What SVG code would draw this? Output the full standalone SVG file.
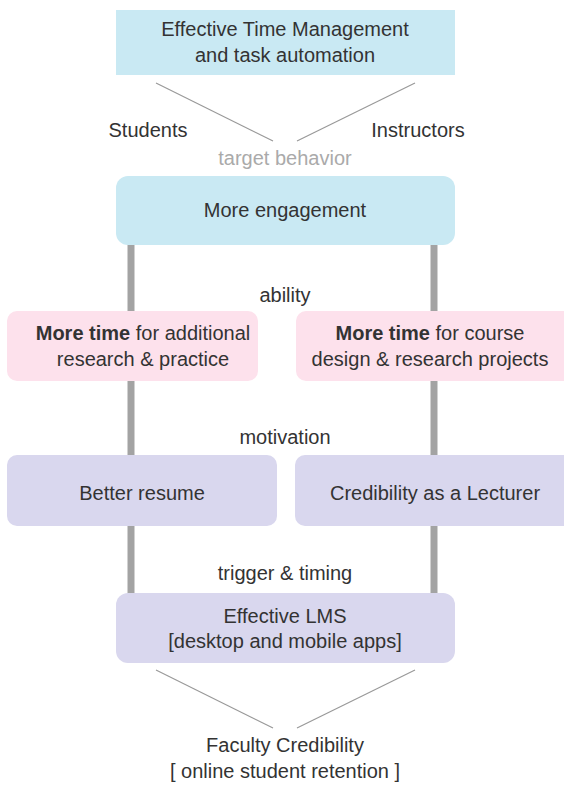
<svg xmlns="http://www.w3.org/2000/svg" width="564" height="785" viewBox="0 0 564 785">
<style>
text{font-family:"Liberation Sans",Arial,sans-serif;font-size:20px;fill:#333;text-anchor:middle}
.blue{fill:#c9e9f3}
.pink{fill:#fde1ec}
.purple{fill:#d9d7ee}
.thin{stroke:#999;stroke-width:1.2;fill:none}
.bar{stroke:#a3a3a3;stroke-width:7;fill:none}
.gray{fill:#aaa}
.b{font-weight:bold}
</style>
<rect width="564" height="785" fill="#fff"/>
<g id="connectors">
<line class="bar" x1="131" y1="240" x2="131" y2="598"/>
<line class="bar" x1="434" y1="240" x2="434" y2="598"/>
<line class="thin" x1="156" y1="83" x2="273" y2="141"/>
<line class="thin" x1="415" y1="83" x2="297" y2="141"/>
<line class="thin" x1="156" y1="670" x2="273" y2="728"/>
<line class="thin" x1="415" y1="670" x2="297" y2="728"/>
</g>
<g id="labels">
<text x="148" y="137">Students</text>
<text x="418" y="137">Instructors</text>
<text x="285" y="165" class="gray">target behavior</text>
<text x="285" y="302">ability</text>
<text x="285" y="444">motivation</text>
<text x="285" y="580">trigger &amp; timing</text>
</g>
<g id="n-time-mgmt">
<rect class="blue" x="116" y="10" width="339" height="65"/>
<text x="285" y="36">Effective Time Management</text>
<text x="285" y="62">and task automation</text>
</g>
<g id="n-engagement">
<rect class="blue" x="116" y="176" width="339" height="69" rx="12"/>
<text x="285" y="217">More engagement</text>
</g>
<g id="n-students-ability">
<rect class="pink" x="7" y="311" width="251" height="70" rx="10"/>
<text x="143" y="340"><tspan class="b">More time</tspan> for additional</text>
<text x="143" y="366">research &amp; practice</text>
</g>
<g id="n-instructors-ability">
<rect class="pink" x="296" y="311" width="280" height="70" rx="10"/>
<text x="430" y="340"><tspan class="b">More time</tspan> for course</text>
<text x="430" y="366">design &amp; research projects</text>
</g>
<g id="n-students-motivation">
<rect class="purple" x="7" y="455" width="270" height="71" rx="10"/>
<text x="142" y="500">Better resume</text>
</g>
<g id="n-instructors-motivation">
<rect class="purple" x="295" y="455" width="280" height="71" rx="10"/>
<text x="435" y="500">Credibility as a Lecturer</text>
</g>
<g id="n-lms">
<rect class="purple" x="116" y="593" width="339" height="70" rx="12"/>
<text x="285" y="623">Effective LMS</text>
<text x="285" y="648">[desktop and mobile apps]</text>
</g>
<g id="n-faculty">
<text x="285" y="752">Faculty Credibility</text>
<text x="285" y="778">[ online student retention ]</text>
</g>
</svg>
